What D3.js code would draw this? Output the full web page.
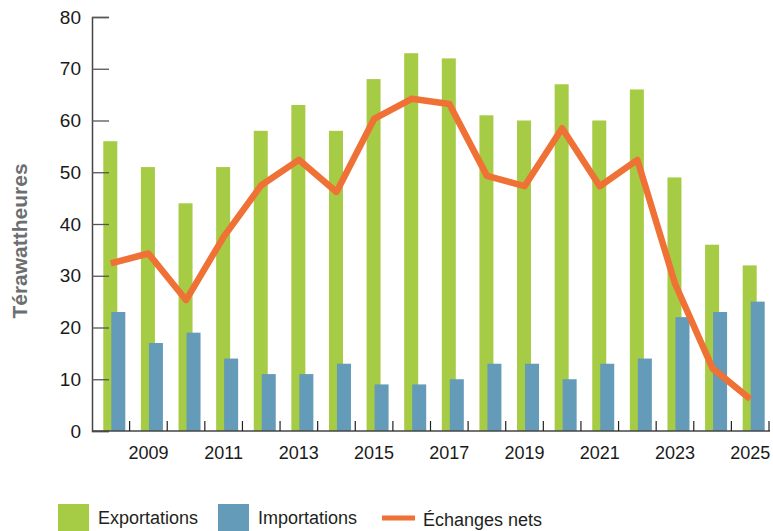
<!DOCTYPE html>
<html>
<head>
<meta charset="utf-8">
<script src="https://cdn.jsdelivr.net/npm/d3@7"></script>
<style>
  body { margin: 0; background: #fff; }
  svg { display: block; font-family: "Liberation Sans", Arial, Helvetica, sans-serif; }
</style>
</head>
<body>
<div id="chart"></div>
<script>
const years = [2008, 2009, 2010, 2011, 2012, 2013, 2014, 2015, 2016, 2017, 2018, 2019, 2020, 2021, 2022, 2023, 2024, 2025]
const exportations = [56, 51, 44, 51, 58, 63, 58, 68, 73, 72, 61, 60, 67, 60, 66, 49, 36, 32]
const importations = [23, 17, 19, 14, 11, 11, 13, 9, 9, 10, 13, 13, 10, 13, 14, 22, 23, 25]
const echangesNets = [32.4, 34.3, 25.3, 37.5, 47.5, 52.4, 46.2, 60.3, 64.2, 63.2, 49.3, 47.3, 58.5, 47.3, 52.4, 28.5, 12.1, 6.2]
const yTicks = [0, 10, 20, 30, 40, 50, 60, 70, 80]
const xLabels = [2009, 2011, 2013, 2015, 2017, 2019, 2021, 2023, 2025]

const width = 773
const height = 531
const margin = { top: 17, right: 4, bottom: 100, left: 92 }
const green = '#a6cb45'
const blue = '#639bb8'
const orange = '#f07135'
const barWidth = 14

const svg = d3.select('#chart')
  .append('svg')
    .attr('width', width)
    .attr('height', height)

const x = d3.scaleBand()
  .domain(years)
  .range([margin.left, 769])
  .padding(0)

const y = d3.scaleLinear()
  .domain([0, 80])
  .range([431, margin.top])

const cx = d => x(d) + x.bandwidth() / 2

// bars
svg.append('g')
  .selectAll('rect')
  .data(years)
  .join('rect')
    .attr('x', d => cx(d) - 7.5)
    .attr('y', (d, i) => y(exportations[i]))
    .attr('width', barWidth)
    .attr('height', (d, i) => y(0) - y(exportations[i]))
    .attr('fill', green)

svg.append('g')
  .selectAll('rect')
  .data(years)
  .join('rect')
    .attr('x', d => cx(d) + 0.5)
    .attr('y', (d, i) => y(importations[i]))
    .attr('width', barWidth)
    .attr('height', (d, i) => y(0) - y(importations[i]))
    .attr('fill', blue)

// y axis
const yAxis = svg.append('g')
  .attr('transform', `translate(${margin.left},0)`)
  .call(d3.axisRight(y).tickValues(yTicks).tickSize(17).tickFormat(d3.format('d')))
yAxis.select('.domain').attr('stroke', '#444').attr('stroke-width', 1.5)
yAxis.selectAll('.tick line').attr('stroke', '#555').attr('stroke-width', 1.3)
yAxis.selectAll('.tick text')
  .attr('x', -11)
  .attr('text-anchor', 'end')
  .attr('font-size', 19)
  .attr('font-family', '"Liberation Sans", Arial, sans-serif')
  .attr('fill', '#1a1a1a')

// x axis
const xAxis = svg.append('g')
  .attr('transform', `translate(0,${y(0)})`)
xAxis.append('line')
  .attr('x1', margin.left)
  .attr('x2', 770)
  .attr('stroke', '#444')
  .attr('stroke-width', 1.5)
xAxis.selectAll('.sep')
  .data(years)
  .join('line')
    .attr('class', 'sep')
    .attr('x1', d => x(d) + x.bandwidth())
    .attr('x2', d => x(d) + x.bandwidth())
    .attr('y1', 0)
    .attr('y2', -10)
    .attr('stroke', '#222')
    .attr('stroke-width', 1.2)
xAxis.selectAll('.lbl')
  .data(xLabels)
  .join('text')
    .attr('class', 'lbl')
    .attr('x', d => cx(d))
    .attr('y', 28)
    .attr('text-anchor', 'middle')
    .attr('font-size', 18)
    .attr('fill', '#1a1a1a')
    .text(d => d)

// net line
svg.append('path')
  .datum(years)
  .attr('fill', 'none')
  .attr('stroke', orange)
  .attr('stroke-width', 6.5)
  .attr('stroke-linejoin', 'round')
  .attr('d', d3.line()
    .x(d => cx(d))
    .y((d, i) => y(echangesNets[i]))
  )

// y title
svg.append('text')
  .attr('transform', `translate(27,241) rotate(-90)`)
  .attr('text-anchor', 'middle')
  .attr('font-family', '"Liberation Sans Narrow", "Liberation Sans", Arial, sans-serif')
  .attr('font-weight', 'bold')
  .attr('font-size', 21)
  .attr('fill', '#6d6e70')
  .text('Térawattheures')

// legend
const legend = svg.append('g')
legend.append('rect').attr('x', 58).attr('y', 504).attr('width', 31).attr('height', 28).attr('fill', green)
legend.append('text').attr('x', 98).attr('y', 524).attr('font-size', 18).attr('fill', '#231f20').text('Exportations')
legend.append('rect').attr('x', 218).attr('y', 504).attr('width', 31).attr('height', 28).attr('fill', blue)
legend.append('text').attr('x', 258).attr('y', 524).attr('font-size', 18).attr('fill', '#231f20').text('Importations')
legend.append('line').attr('x1', 382).attr('x2', 415).attr('y1', 518).attr('y2', 518)
  .attr('stroke', orange).attr('stroke-width', 5)
legend.append('text').attr('x', 423).attr('y', 526).attr('font-size', 18).attr('fill', '#231f20').text('Échanges nets')
</script>
</body>
</html>
